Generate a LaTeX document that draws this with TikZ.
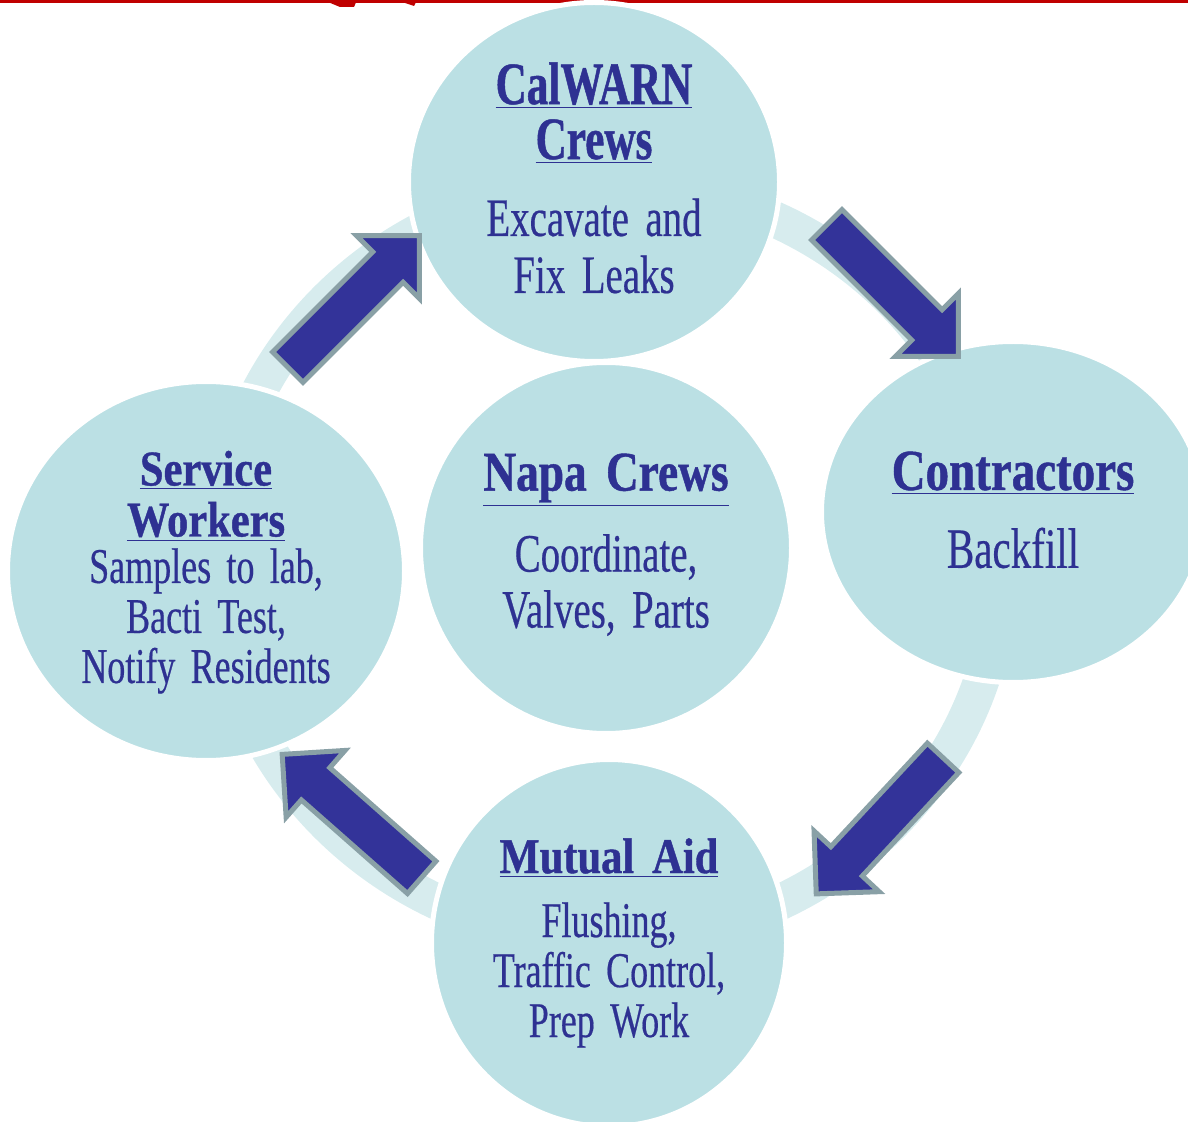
\documentclass[tikz,border=0pt]{standalone}
\usepackage{fontspec}
\setmainfont{Liberation Serif}[FakeStretch=0.72,WordSpace=1.7,
  UprightFeatures={FakeBold=0.4},BoldFeatures={FakeBold=0.8}]
\usetikzlibrary{shapes.geometric,shapes.arrows}

\definecolor{bubblefill}{RGB}{187,224,228}
\definecolor{ringfill}{RGB}{215,236,238}
\definecolor{arrowfill}{RGB}{51,51,153}
\definecolor{arrowedge}{RGB}{137,160,166}
\definecolor{textblue}{RGB}{46,49,146}
\definecolor{topred}{RGB}{192,0,0}

\tikzset{
  bubble/.style={ellipse, fill=bubblefill, draw=white, line width=2.5pt, inner sep=0pt},
  cyclearrow/.style={single arrow, fill=arrowfill, draw=arrowedge, line width=2.5pt,
    minimum height=93pt, inner xsep=0pt, inner ysep=9.5pt,
    single arrow head extend=11.5pt, single arrow tip angle=90},
  headtxt/.style n args={3}{text=textblue, align=center, inner sep=0pt,
    font=\fontsize{#1}{#2}\selectfont\bfseries\addfontfeatures{FakeStretch=#3}},
  bodytxt/.style 2 args={text=textblue, align=center, inner sep=0pt,
    font=\fontsize{#1}{#2}\selectfont},
}

\begin{document}
\begin{tikzpicture}[x=0.5pt, y=-0.5pt]
  \useasboundingbox (0,0) rectangle (1188,1122);
  % red rule at the top
  \fill[topred] (0,0) rectangle (1188,3);
  \fill[topred] (323,0) -- (357,0) -- (354,7) -- (340,7) -- cycle;
  \fill[topred] (396,0) -- (417,0) -- (414,6) -- cycle;
  % ring behind the bubbles
  \draw[ringfill, line width=18pt] (609,562) ellipse [x radius=392, y radius=378];
  % bubbles
  \node[bubble, minimum width=185.5pt, minimum height=179.5pt] (cal) at (594,182) {};
  \node[bubble, minimum width=191.5pt, minimum height=170.5pt] (con) at (1013,512) {};
  \node[bubble, minimum width=185.5pt, minimum height=185.5pt] (napa) at (606,548) {};
  \node[bubble, minimum width=198.5pt, minimum height=189.5pt] (serv) at (206,571) {};
  \node[bubble, minimum width=177.5pt, minimum height=183.5pt] (mut) at (609,943) {};
  % CalWARN
  \node[headtxt={30}{27.5}{0.72}] (calhead) at (594,113) {\underline{CalWARN}\\\underline{Crews}};
  \node[bodytxt={27}{28.5}] (calbody) at (594,246) {Excavate and\\Fix Leaks};
  % Contractors
  \node[headtxt={29}{27.5}{0.81}] (conhead) at (1013,473) {\underline{Contractors}};
  \node[bodytxt={28.5}{28}] (conbody) at (1013,548) {Backfill};
  % Napa
  \node[headtxt={28}{27}{0.81}] (napahead) at (606,480) {\underline{Napa Crews}};
  \node[bodytxt={27}{28}] (napabody) at (606,585) {Coordinate,\\Valves, Parts};
  % Service workers
  \node[headtxt={25}{25.5}{0.85}] (servhead) at (206,496) {\underline{Service}\\\underline{Workers}};
  \node[bodytxt={25}{25}] (servbody) at (206,621) {Samples to lab,\\Bacti Test,\\Notify Residents};
  % Mutual aid
  \node[headtxt={25}{25}{0.85}] (muthead) at (609,858) {\underline{Mutual Aid}};
  \node[bodytxt={25}{25}] (mutbody) at (609,975) {Flushing,\\Traffic Control,\\Prep Work};
  % arrows round the cycle
  \node[cyclearrow, rotate=45] (a1) at (346,309) {};
  \node[cyclearrow, rotate=-45] (a2) at (885,283) {};
  \node[cyclearrow, rotate=-133] (a3) at (887,818) {};
  \node[cyclearrow, rotate=138.6] (a4) at (360,823) {};
\end{tikzpicture}
\end{document}
